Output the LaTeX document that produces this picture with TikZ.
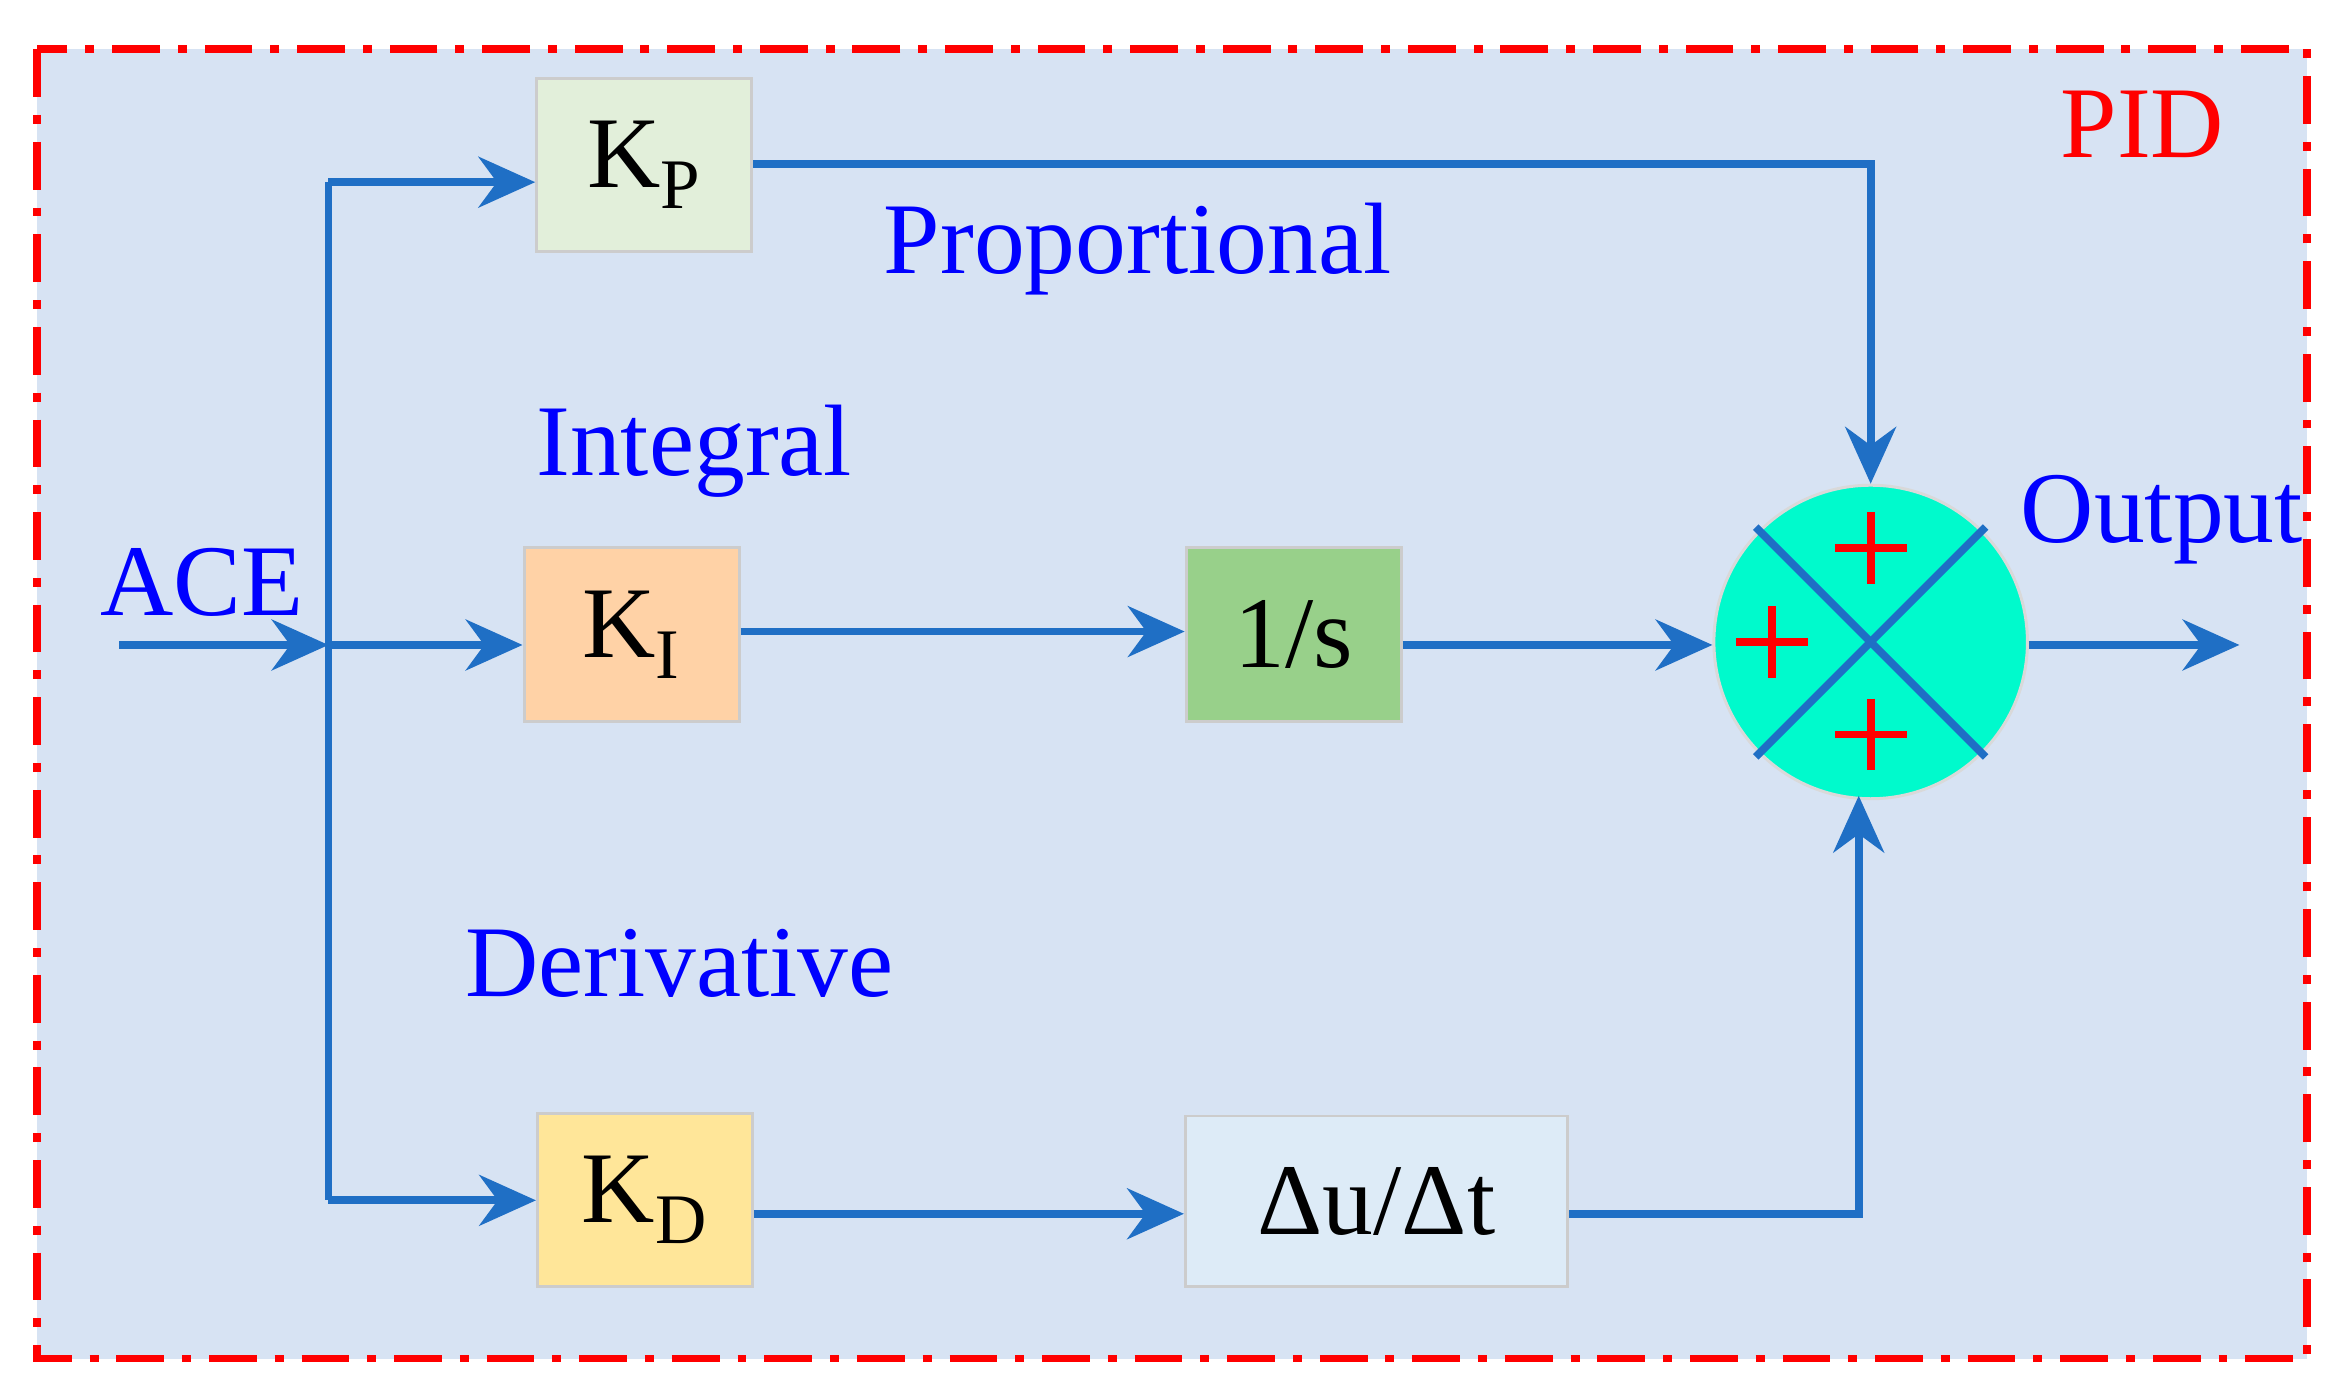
\documentclass[tikz,border=0pt]{standalone}
\usepackage{fontspec}
\setmainfont{Liberation Serif}
\usetikzlibrary{arrows.meta}
\definecolor{lb}{HTML}{1F6FC5}
\definecolor{bg}{HTML}{D7E3F3}
\tikzset{
  blk/.style={draw=black!20,line width=1pt,inner sep=0pt},
  wire/.style={draw=lb,line width=2.6pt},
  arr/.style={wire,-{Stealth[length=19pt,width=17pt]}},
  lbl/.style={text=blue,font=\fontsize{34}{40}\selectfont,inner sep=0pt},
  txt/.style={font=\fontsize{34}{40}\selectfont}
}
\begin{document}
\begin{tikzpicture}[x=0.5pt,y=-0.5pt]
\useasboundingbox (0,0) rectangle (1560,934);
\fill[white] (0,0) rectangle (1560,934);
\draw[red,fill=bg,line width=2.6pt,dash pattern=on 16pt off 6pt on 3pt off 6pt] (25,33) rectangle (1545,910);
\node[blk,fill={rgb,255:red,226;green,239;blue,218},minimum width=72pt,minimum height=58pt,txt] (kp) at (431.5,110.5) {K\textsubscript{P}};
\node[blk,fill=orange!35!white,minimum width=72pt,minimum height=58pt,txt] (ki) at (423,425) {K\textsubscript{I}};
\node[blk,fill={rgb,255:red,152;green,208;blue,138},minimum width=72pt,minimum height=58pt,txt] (is) at (866.5,425) {1/s};
\node[blk,fill={rgb,255:red,255;green,230;blue,153},minimum width=72pt,minimum height=58pt,txt] (kd) at (432,803.5) {K\textsubscript{D}};
\node[blk,fill={rgb,255:red,221;green,235;blue,247},minimum width=128pt,minimum height=57pt,txt] (du) at (922,804.5) {Δu/Δt};
\node[circle,draw=black!15,line width=1pt,fill={rgb,255:red,0;green,250;blue,204},minimum size=105pt,inner sep=0pt] (sum) at (1253,430) {};
\draw[lb,line width=2.6pt] (1253,430) ++(-77,-77) -- ++(154,154);
\draw[lb,line width=2.6pt] (1253,430) ++(77,-77) -- ++(-154,154);
\foreach \p in {(1253,367),(1187,430),(1253,492)}
  \draw[red,line width=2.6pt] \p ++(-24,0) -- ++(48,0) \p ++(0,-24) -- ++(0,48);
\coordinate (in) at (80,432);
\coordinate (br) at (220,432);
\coordinate (top) at (220,122);
\coordinate (bot) at (220,804);
\coordinate (out) at (1500,432);
\draw[arr] (in) -- (br);
\draw[wire] (top) -- (bot);
\draw[arr] (top) -- (kp.west|-top);
\draw[arr] (br) -- (ki.west|-br);
\draw[arr] (bot) -- (kd.west|-bot);
\draw[arr] (kp.east|-0,110) -- (1253,110) -- (sum.north);
\draw[arr] (ki.east|-0,423) -- (is.west|-0,423);
\draw[arr] (is.east|-0,432) -- (sum.west|-0,432);
\draw[arr] (kd.east|-0,813) -- (du.west|-0,813);
\draw[arr] (du.east|-0,813) -- (1245,813) -- (1245,533);
\draw[arr] (sum.east|-out) -- (out);
\node[lbl] (lp) at (762,167) {Proportional};
\node[lbl] (li) at (465,302) {Integral};
\node[lbl] (ld) at (455,645) {Derivative};
\node[lbl] (la) at (135,390) {ACE};
\node[lbl] (lo) at (1448,348) {Output};
\node[lbl,text=red] (lpid) at (1435,83) {PID};
\end{tikzpicture}
\end{document}
